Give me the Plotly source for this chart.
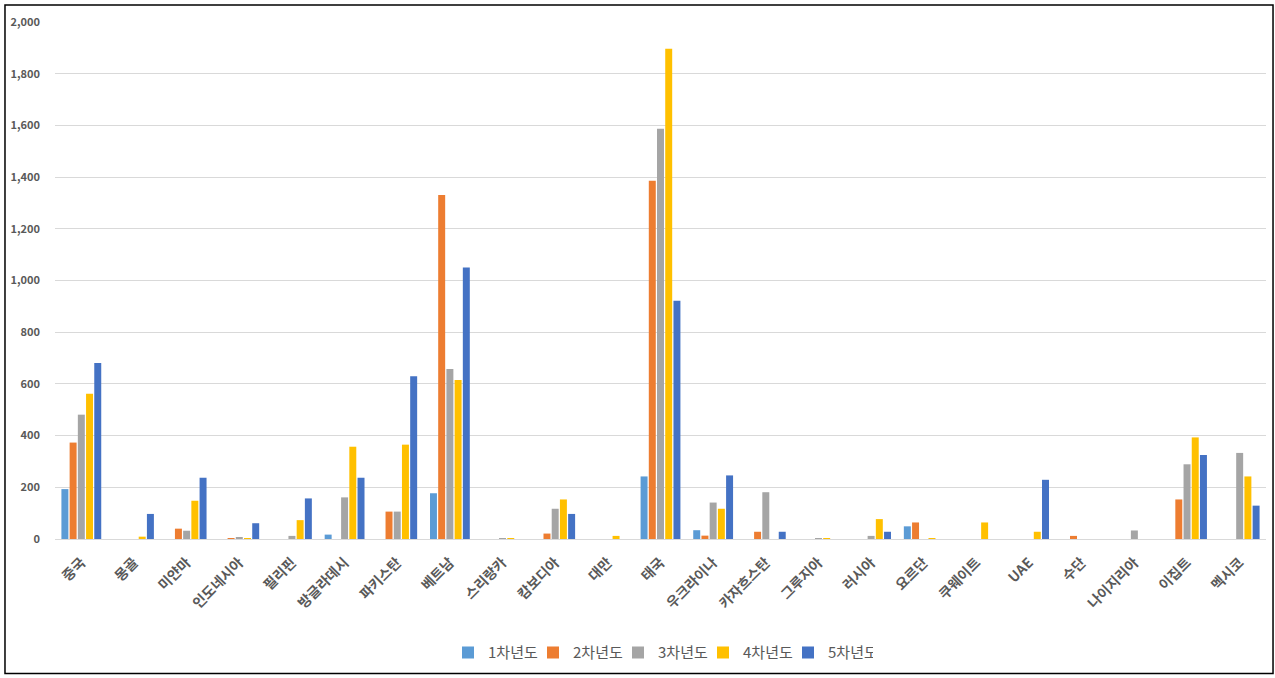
import plotly.graph_objects as go

countries = ["중국", "몽골", "미얀마", "인도네시아", "필리핀", "방글라데시", "파키스탄", "베트남",
             "스리랑카", "캄보디아", "대만", "태국", "우크라이나", "카자흐스탄", "그루지아", "러시아",
             "요르단", "쿠웨이트", "UAE", "수단", "나이지리아", "이집트", "멕시코"]

year1 = [193, 0, 0, 0, 0, 17, 0, 177, 0, 0, 0, 242, 34, 0, 0, 0, 49, 0, 0, 0, 0, 0, 0]
year2 = [373, 0, 40, 3, 0, 0, 106, 1331, 0, 21, 0, 1386, 13, 28, 0, 0, 64, 0, 0, 12, 0, 153, 0]
year3 = [481, 0, 32, 7, 12, 161, 106, 658, 3, 117, 0, 1587, 141, 181, 2, 12, 0, 0, 0, 0, 33, 289, 333]
year4 = [562, 9, 148, 3, 73, 357, 365, 615, 3, 153, 12, 1897, 117, 0, 2, 77, 2, 64, 28, 0, 0, 393, 242]
year5 = [681, 97, 237, 61, 157, 237, 630, 1050, 0, 97, 0, 922, 246, 28, 0, 28, 0, 0, 229, 0, 0, 325, 129]

series_names = ["1차년도", "2차년도", "3차년도", "4차년도", "5차년도"]
series_values = [year1, year2, year3, year4, year5]
colors = ["#5B9BD5", "#ED7D31", "#A5A5A5", "#FFC000", "#4472C4"]

y_ticks = [0, 200, 400, 600, 800, 1000, 1200, 1400, 1600, 1800, 2000]

font_family = "Noto Sans CJK KR, Noto Sans, sans-serif"

fig = go.Figure()
for name, vals, col in zip(series_names, series_values, colors):
    fig.add_trace(go.Bar(x=countries, y=vals, name=name, marker=dict(color=col, line=dict(width=0))))

fig.update_layout(
    width=1275, height=678,
    margin=dict(l=55, r=9, t=22, b=137),
    paper_bgcolor="white", plot_bgcolor="white",
    barmode="group", bargap=0.22, bargroupgap=0.15,
    font=dict(family=font_family, color="#595959"),
    legend=dict(orientation="h", x=0.5, xanchor="center", y=-0.22, yanchor="middle",
                font=dict(size=15, color="#595959"), itemwidth=30,
                entrywidth=40, entrywidthmode="pixels", traceorder="normal"),
    showlegend=True,
)
fig.update_xaxes(tickangle=-45, tickfont=dict(size=14, color="#595959", weight="bold"), showline=True,
                 linecolor="#D9D9D9", linewidth=1, ticks="", showgrid=False, ticklabelstandoff=9)
fig.update_yaxes(range=[0, 2000], tickvals=y_ticks, tickformat=",",
                 tickfont=dict(size=11, color="#595959", weight="bold"),
                 showgrid=True, gridcolor="#D9D9D9", gridwidth=1, zeroline=False, showline=False,
                 ticklabelstandoff=14)

# outer frame
fig.add_shape(type="rect", xref="paper", yref="paper", x0=-0.0413, x1=1.0058, y0=-0.26, y1=1.0328,
              line=dict(color="#000000", width=1.5), fillcolor="rgba(0,0,0,0)", layer="below")

fig.write_html("out.html", config={"displayModeBar": False},
               post_script="document.body.style.margin='0';")
